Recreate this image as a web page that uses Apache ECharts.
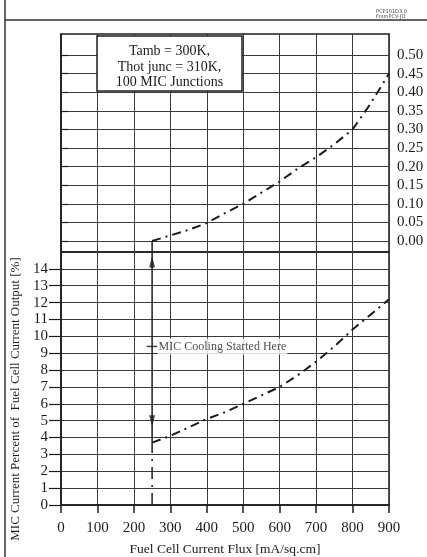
<!DOCTYPE html>
<html><head><meta charset="utf-8">
<script src="https://cdn.jsdelivr.net/npm/echarts@6/dist/echarts.min.js"></script>
<style>html,body{margin:0;padding:0;background:#fff}#c{width:427px;height:557px}</style>
</head><body><div id="c"></div>
<script>
// ---- data ----
const xTicks = [0, 100, 200, 300, 400, 500, 600, 700, 800, 900];
const leftTicks = [0, 1, 2, 3, 4, 5, 6, 7, 8, 9, 10, 11, 12, 13, 14];
const rightTicks = [0, 0.05, 0.10, 0.15, 0.20, 0.25, 0.30, 0.35, 0.40, 0.45, 0.50];
const flux = [250, 300, 350, 400, 450, 500, 550, 600, 650, 700, 750, 800, 850, 900];
const micPercentLower = [3.7, 4.1, 4.6, 5.1, 5.5, 6.0, 6.5, 7.0, 7.7, 8.5, 9.4, 10.4, 11.3, 12.2];
const micUpper = [0.0, 0.015, 0.03, 0.048, 0.075, 0.10, 0.13, 0.16, 0.195, 0.225, 0.26, 0.30, 0.37, 0.45];
const coolingStartFlux = 250;
const noteText = 'MIC Cooling Started Here';
const noteLevel = 9.4;
const infoLines = ['Tamb = 300K,', 'Thot junc = 310K,', '100 MIC Junctions'];

const serif = '"Liberation Serif", "DejaVu Serif", serif';
const ink = '#1c1c1c';
const gridCol = '#3a3a3a';
const dashDot = [9, 5, 2, 5];

const chart = echarts.init(document.getElementById('c'), null, {renderer: 'canvas'});

const common = {type: 'value', min: 0, max: 900, interval: 100};
const lowTop = 252, lowBottom = 507;
const upMin = -0.0296, upMax = 0.5565;

const option = {
  backgroundColor: '#fff',
  animation: false,
  grid: [
    {left: 61, right: 38, top: lowTop, bottom: 557 - lowBottom, show: true, borderColor: ink, borderWidth: 1.5, backgroundColor: 'transparent'},
    {left: 61, right: 38, top: 34, height: lowTop - 34, show: true, borderColor: ink, borderWidth: 1.5, backgroundColor: 'transparent'}
  ],
  xAxis: [
    Object.assign({}, common, {
      gridIndex: 0,
      axisLine: {lineStyle: {color: ink, width: 1.5}},
      axisTick: {show: true, length: 8, lineStyle: {color: ink, width: 1.5}},
      axisLabel: {fontFamily: serif, fontSize: 15, color: ink, margin: 16},
      splitLine: {show: true, lineStyle: {color: gridCol, width: 1}},
      name: 'Fuel Cell Current Flux [mA/sq.cm]',
      nameLocation: 'middle', nameGap: 37,
      nameTextStyle: {fontFamily: serif, fontSize: 13.5, color: ink}
    }),
    Object.assign({}, common, {
      gridIndex: 1,
      axisLine: {show: false}, axisTick: {show: false}, axisLabel: {show: false},
      splitLine: {show: true, lineStyle: {color: gridCol, width: 1}}
    })
  ],
  yAxis: [
    {
      type: 'value', gridIndex: 0, position: 'left', min: 0, max: 15, interval: 1,
      axisLine: {show: true, lineStyle: {color: ink, width: 1.5}},
      axisTick: {show: true, length: 12, customValues: leftTicks, lineStyle: {color: ink, width: 1.2}},
      axisLabel: {fontFamily: serif, fontSize: 15, color: ink, margin: 13, customValues: leftTicks},
      splitLine: {show: true, lineStyle: {color: gridCol, width: 1}},
      name: 'MIC Current Percent of  Fuel Cell Current Output [%]',
      nameLocation: 'middle', nameGap: 34, nameRotate: 90,
      nameTextStyle: {fontFamily: serif, fontSize: 13, color: ink, padding: [0, 41, 0, 0]}
    },
    {
      type: 'value', gridIndex: 1, position: 'right', min: upMin, max: upMax,
      axisLine: {show: true, lineStyle: {color: ink, width: 1.5}},
      axisTick: {show: true, length: 7, customValues: rightTicks, lineStyle: {color: ink, width: 1.2}},
      axisLabel: {fontFamily: serif, fontSize: 15, color: ink, margin: 8, customValues: rightTicks,
        formatter: v => v.toFixed(2)},
      splitLine: {show: true, lineStyle: {color: gridCol, width: 1}}
    }
  ],
  series: [
    {
      name: 'lower', type: 'line', xAxisIndex: 0, yAxisIndex: 0, symbol: 'none',
      data: flux.map((x, i) => [x, micPercentLower[i]]),
      lineStyle: {color: ink, width: 2, type: dashDot}
    },
    {
      name: 'upper', type: 'line', xAxisIndex: 1, yAxisIndex: 1, symbol: 'none',
      data: flux.map((x, i) => [x, micUpper[i]]),
      lineStyle: {color: ink, width: 2, type: dashDot}
    },
    {
      name: 'jumpBase', type: 'line', xAxisIndex: 0, yAxisIndex: 0, symbol: 'none',
      data: [[coolingStartFlux, 0], [coolingStartFlux, micPercentLower[0]]],
      lineStyle: {color: ink, width: 1.5, type: [12, 6, 2, 6]}
    },
    {
      name: 'jumpLow', type: 'line', xAxisIndex: 0, yAxisIndex: 0, symbol: 'none',
      data: [[coolingStartFlux, micPercentLower[0]], [coolingStartFlux, 15]],
      lineStyle: {color: ink, width: 1.5}
    },
    {
      name: 'jumpHigh', type: 'line', xAxisIndex: 1, yAxisIndex: 1, symbol: 'none',
      data: [[coolingStartFlux, upMin], [coolingStartFlux, micUpper[0]]],
      lineStyle: {color: ink, width: 1.5}
    },
    {
      name: 'arrows', type: 'scatter', xAxisIndex: 0, yAxisIndex: 0,
      symbol: 'triangle', symbolSize: [6, 11],
      itemStyle: {color: ink},
      data: [
        {value: [coolingStartFlux, 14.4], symbolRotate: 0},
        {value: [coolingStartFlux, 5.0], symbolRotate: 180}
      ]
    },
    {
      name: 'note', type: 'scatter', xAxisIndex: 0, yAxisIndex: 0,
      symbol: 'rect', symbolSize: [11, 1.5], itemStyle: {color: ink},
      data: [[coolingStartFlux, noteLevel]],
      label: {show: true, position: 'right', distance: 0, formatter: noteText,
        fontFamily: serif, fontSize: 12, color: ink, backgroundColor: '#fff', padding: [2, 1, 2, 1]}
    }
  ],
  graphic: [
    {type: 'line', shape: {x1: 5, y1: 0, x2: 5, y2: 557}, style: {stroke: '#333', lineWidth: 1.5}},
    {type: 'line', shape: {x1: 5, y1: 20, x2: 427, y2: 20}, style: {stroke: '#333', lineWidth: 1.5}},
    {type: 'text', left: 376, top: 9, style: {text: 'PCP101D3.0\nFromPCV-JO', fontSize: 5, lineHeight: 5, fill: '#444', fontFamily: 'DejaVu Sans'}},
    {type: 'rect', shape: {x: 97, y: 36, width: 145, height: 55},
      style: {fill: '#fff', stroke: ink, lineWidth: 1.5}, z: 10},
    {type: 'text', x: 169.5, y: 44, z: 11,
      style: {text: infoLines.join('\n'), textAlign: 'center', fontFamily: serif, fontSize: 14, lineHeight: 15.5, fill: ink}}
  ]
};
chart.setOption(option);
</script>
</body></html>
